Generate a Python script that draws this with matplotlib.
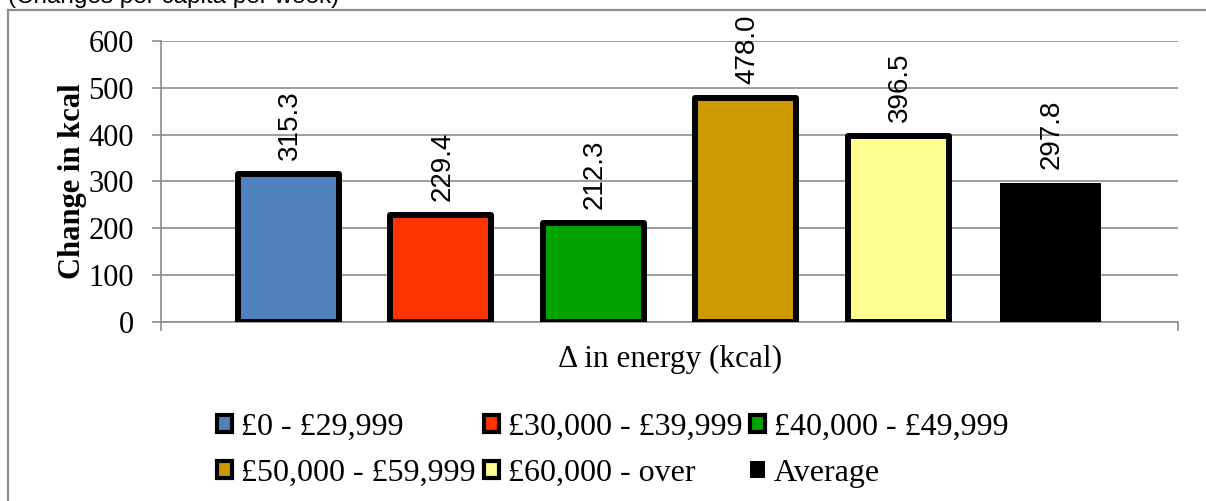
import numpy as np
import matplotlib
matplotlib.use("Agg")
import matplotlib.pyplot as plt
from matplotlib.patches import Patch
from matplotlib.lines import Line2D

# Datos del grafico
categorias = ['£0 - £29,999', '£30,000 - £39,999', '£40,000 - £49,999',
              '£50,000 - £59,999', '£60,000 - over', 'Average']
valores = [315.3, 229.4, 212.3, 478.0, 396.5, 297.8]
colores = ['#4F81BD', '#FF3300', '#00A400', '#CC9900', '#FFFF8F', '#000000']
yticks = [0, 100, 200, 300, 400, 500, 600]

W, H = 1206, 501
fig = plt.figure(figsize=(W / 100, H / 100), dpi=100)
ax = fig.add_axes([161 / W, 1 - 322 / H, (1178 - 161) / W, (322 - 41) / H])

gris = '#8C8C8C'
serif = 'Liberation Serif'
sans = 'Liberation Sans'

x = np.arange(len(valores))
bordes = ['black'] * 5 + ['none']
barras = ax.bar(x, valores, width=0.66, color=colores, edgecolor=bordes,
                linewidth=4.3, joinstyle='round', zorder=3)

# Etiquetas de valor rotadas
for xi, v in zip(x, valores):
    ax.annotate(f'{v:.1f}', (xi, v), xytext=(1, 10), textcoords='offset points',
                rotation=90, ha='center', va='bottom', fontsize=20,
                family=sans, annotation_clip=False)

ax.set_xlim(-0.835, 5.835)
ax.set_ylim(0, 600)
ax.set_yticks(yticks)
ax.set_yticklabels([str(t) for t in yticks], family=serif, fontsize=22)
ax.set_xticks([-0.835, 5.835])
ax.set_xticklabels(['', ''])
ax.tick_params(axis='both', direction='out', length=6.5, width=1.2, color=gris, pad=13)
ax.grid(axis='y', color=gris, linewidth=1.2, zorder=0)
for s in ['top', 'right']:
    ax.spines[s].set_visible(False)
for s in ['left', 'bottom']:
    ax.spines[s].set_color(gris)
    ax.spines[s].set_linewidth(1.2)

ax.set_ylabel('Change in kcal', family=serif, fontsize=22, fontweight='bold')
ax.yaxis.set_label_coords(-0.0728, 0.5)

fig.text(670 / W, 1 - 367 / H, 'Δ in energy (kcal)', ha='center', va='baseline',
         family=serif, fontsize=22.5)

# Titulo cortado arriba
fig.text(8 / W, 1 - 3 / H, '(Changes per capita per week)', ha='left', va='baseline',
         family=sans, fontsize=17.5)

# Marco exterior
fig.add_artist(Line2D([8 / W, 8 / W], [-0.1, 1 - 9.5 / H], color=gris, lw=1.6,
                      transform=fig.transFigure))
fig.add_artist(Line2D([8 / W, 1.1], [1 - 9.5 / H, 1 - 9.5 / H], color=gris, lw=1.6,
                      transform=fig.transFigure))

# Leyenda (3 columnas, orden por filas)
handles = []
for i, c in enumerate(colores):
    if i < 5:
        handles.append(Patch(facecolor=c, edgecolor='black', linewidth=3))
    else:
        handles.append(Patch(facecolor='black', edgecolor='none'))
orden = [0, 3, 1, 4, 2, 5]
fig.legend([handles[i] for i in orden], [categorias[i] for i in orden],
           ncol=3, loc='upper left', bbox_to_anchor=(217 / W, 1 - 413 / H),
           frameon=False, prop={'family': serif, 'size': 23},
           handlelength=0.47, handleheight=0.47, handletextpad=0.28,
           columnspacing=0.25, labelspacing=0.53, borderpad=0, borderaxespad=0)

fig.savefig('out.png', dpi=100)
